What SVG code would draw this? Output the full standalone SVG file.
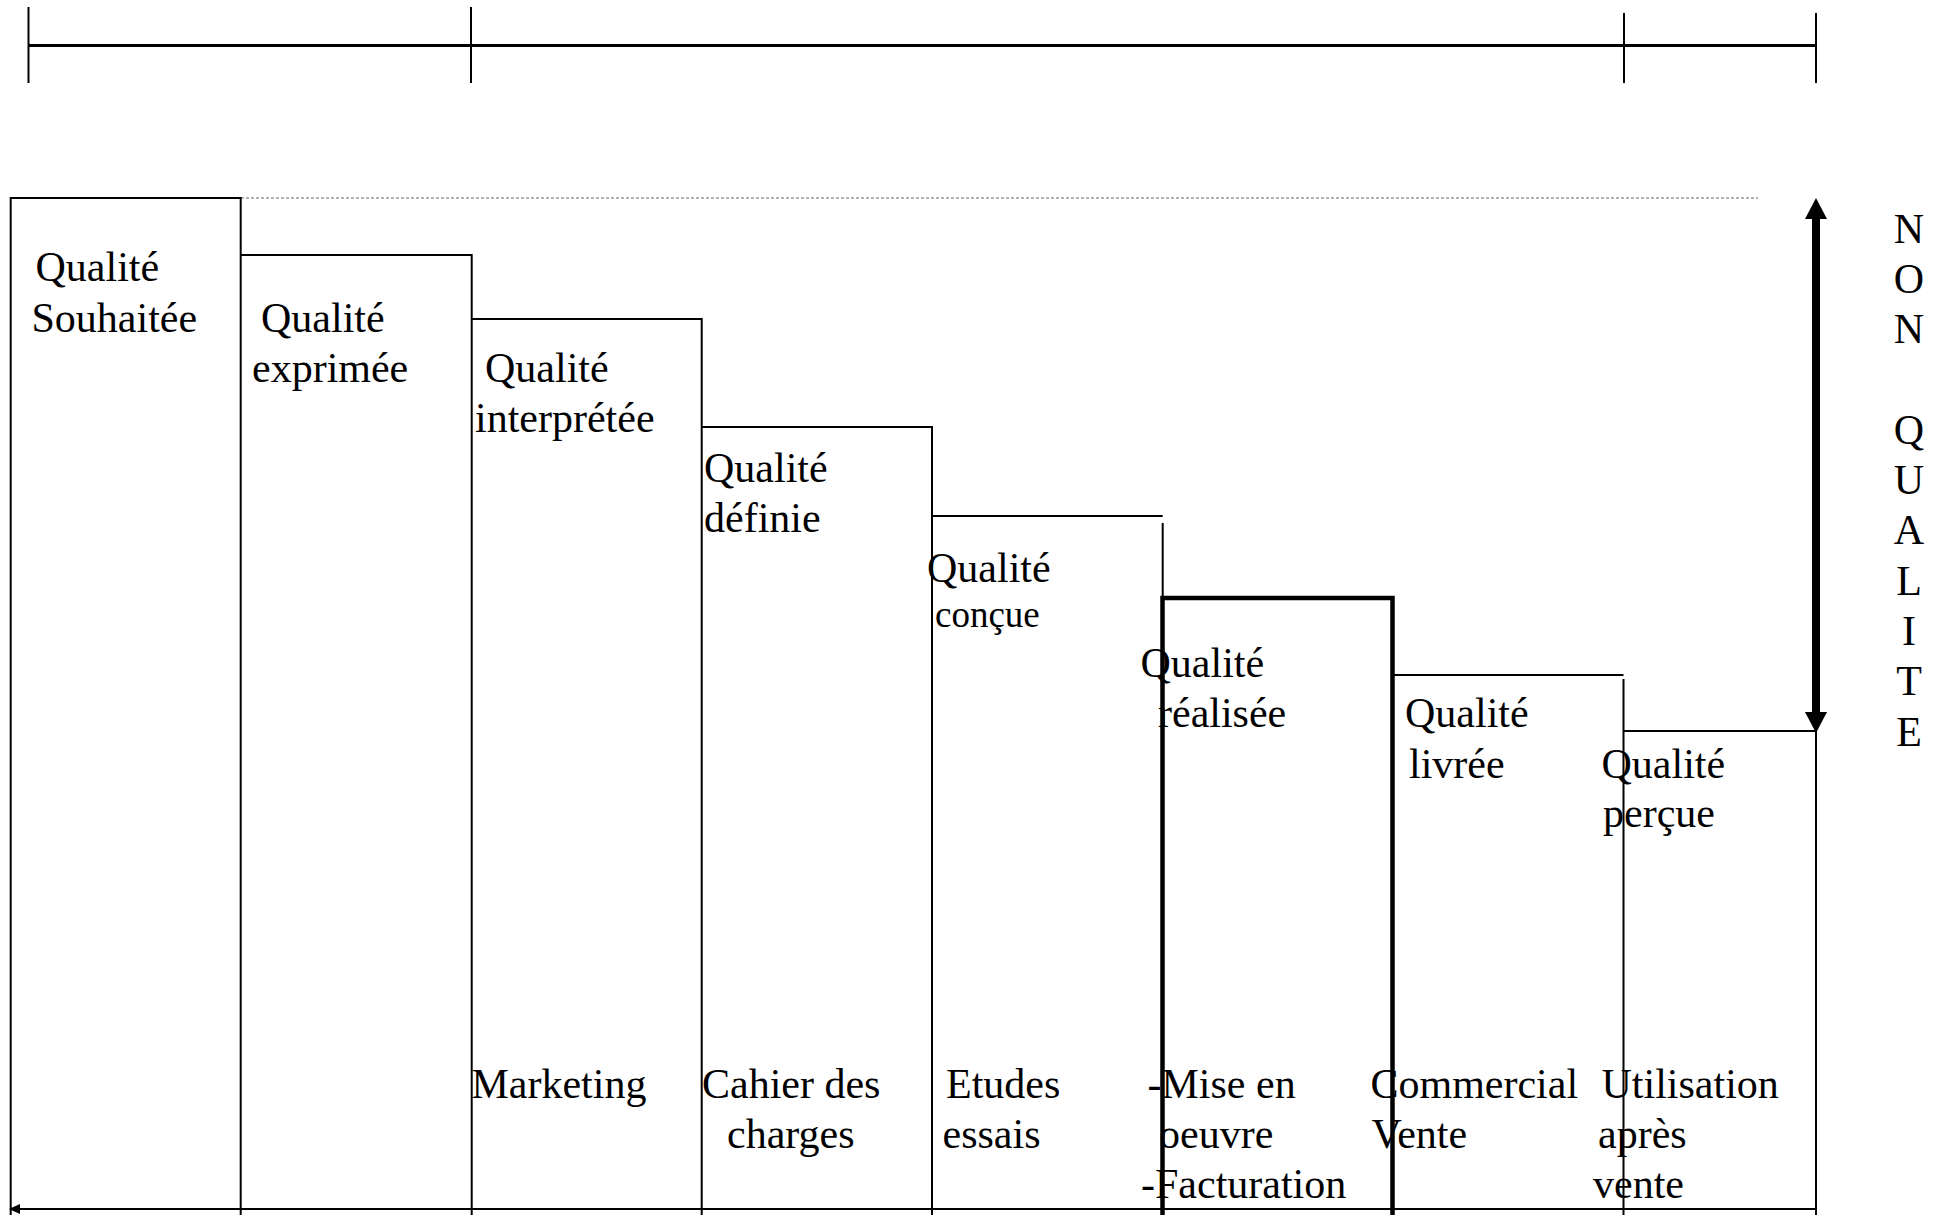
<svg xmlns="http://www.w3.org/2000/svg" width="1944" height="1215" viewBox="0 0 1944 1215">
<style>
  .ln { fill: none; stroke: #000; stroke-width: 2; }
  .thick { fill: none; stroke: #000; stroke-width: 4.5; }
  .dash { fill: none; stroke: #666; stroke-width: 1.2; stroke-dasharray: 3 2; }
  .t { font-family: "Liberation Serif", "Times New Roman", serif; font-size: 42px; fill: #000; }
  .s { font-size: 37px; }
  .head { fill: #000; stroke: none; }
</style>
<rect width="1944" height="1215" fill="#fff"/>

<g id="scale">
  <line class="ln" x1="28.5" y1="45.5" x2="1816" y2="45.5" style="stroke-width:3"/>
  <line class="ln" x1="28.5" y1="7" x2="28.5" y2="83"/>
  <line class="ln" x1="471" y1="7" x2="471" y2="83"/>
  <line class="ln" x1="1624" y1="13" x2="1624" y2="83"/>
  <line class="ln" x1="1816" y1="13" x2="1816" y2="83"/>
</g>

<line id="reference-level" class="dash" x1="241" y1="198" x2="1758" y2="198"/>

<g id="q-souhaitee">
  <text class="t" x="35.5" y="281">Qualité</text>
  <text class="t" x="31.5" y="331.5">Souhaitée</text>
  <path class="ln" d="M10.7 1215 V198 H240.7 V1215"/>
</g>

<g id="q-exprimee">
  <text class="t" x="261" y="331.5">Qualité</text>
  <text class="t" x="252" y="381.5">exprimée</text>
  <path class="ln" d="M240.7 255 H471.7 V1215"/>
</g>

<g id="q-interpretee">
  <text class="t" x="485" y="381.5">Qualité</text>
  <text class="t" x="475" y="431.5">interprétée</text>
  <text class="t" x="471.5" y="1098">Marketing</text>
  <path class="ln" d="M471.7 319 H701.7 V1215"/>
</g>

<g id="q-definie">
  <text class="t" x="704" y="481.5">Qualité</text>
  <text class="t" x="704" y="531.5">définie</text>
  <text class="t" x="702" y="1098">Cahier des</text>
  <text class="t" x="727" y="1148">charges</text>
  <path class="ln" d="M701.7 427 H932 V1215"/>
</g>

<g id="q-concue">
  <text class="t" x="927" y="581.5">Qualité</text>
  <text class="t s" x="935" y="626.5">conçue</text>
  <text class="t" x="946" y="1098">Etudes</text>
  <text class="t" x="942.5" y="1148">essais</text>
  <path class="ln" d="M932 516 H1162.7 M1162.7 523 V598"/>
</g>

<g id="q-realisee">
  <text class="t" x="1140.5" y="676.5">Qualité</text>
  <text class="t" x="1158" y="726.5">réalisée</text>
  <text class="t" x="1147.5" y="1098">-Mise en</text>
  <text class="t" x="1159" y="1148">oeuvre</text>
  <text class="t" x="1141" y="1198">-Facturation</text>
  <path class="thick" d="M1162.5 1215 V598 H1392.5 V1215"/>
</g>

<g id="q-livree">
  <text class="t" x="1405" y="727">Qualité</text>
  <text class="t" x="1409" y="777.5">livrée</text>
  <text class="t" x="1370.5" y="1098">Commercial</text>
  <text class="t" x="1371.5" y="1148">Vente</text>
  <path class="ln" d="M1392.5 675 H1623.5 M1623.5 679 V1215"/>
</g>

<g id="q-percue">
  <text class="t" x="1601.5" y="777.5">Qualité</text>
  <text class="t" x="1603" y="827">perçue</text>
  <text class="t" x="1601.5" y="1098">Utilisation</text>
  <text class="t" x="1598" y="1148">après</text>
  <text class="t" x="1593" y="1198">vente</text>
  <path class="ln" d="M1623.5 731 H1816 V1215"/>
</g>

<g id="non-qualite" class="t" text-anchor="middle">
  <text x="1909" y="242.5">N</text>
  <text x="1909" y="292.8">O</text>
  <text x="1909" y="343.1">N</text>
  <text x="1909" y="443.7">Q</text>
  <text x="1909" y="494">U</text>
  <text x="1909" y="544.3">A</text>
  <text x="1909" y="594.6">L</text>
  <text x="1909" y="644.9">I</text>
  <text x="1909" y="695.2">T</text>
  <text x="1909" y="745.5">E</text>
</g>

<g id="connectors">
  <line x1="1816" y1="214" x2="1816" y2="717" stroke="#000" stroke-width="8"/>
  <polygon class="head" points="1816,198 1827,219 1805,219"/>
  <polygon class="head" points="1816,733 1827,712 1805,712"/>
  <line x1="1816" y1="1209" x2="16" y2="1209" stroke="#000" stroke-width="2"/>
  <polygon class="head" points="9,1209 20,1204 20,1214"/>
</g>
</svg>
